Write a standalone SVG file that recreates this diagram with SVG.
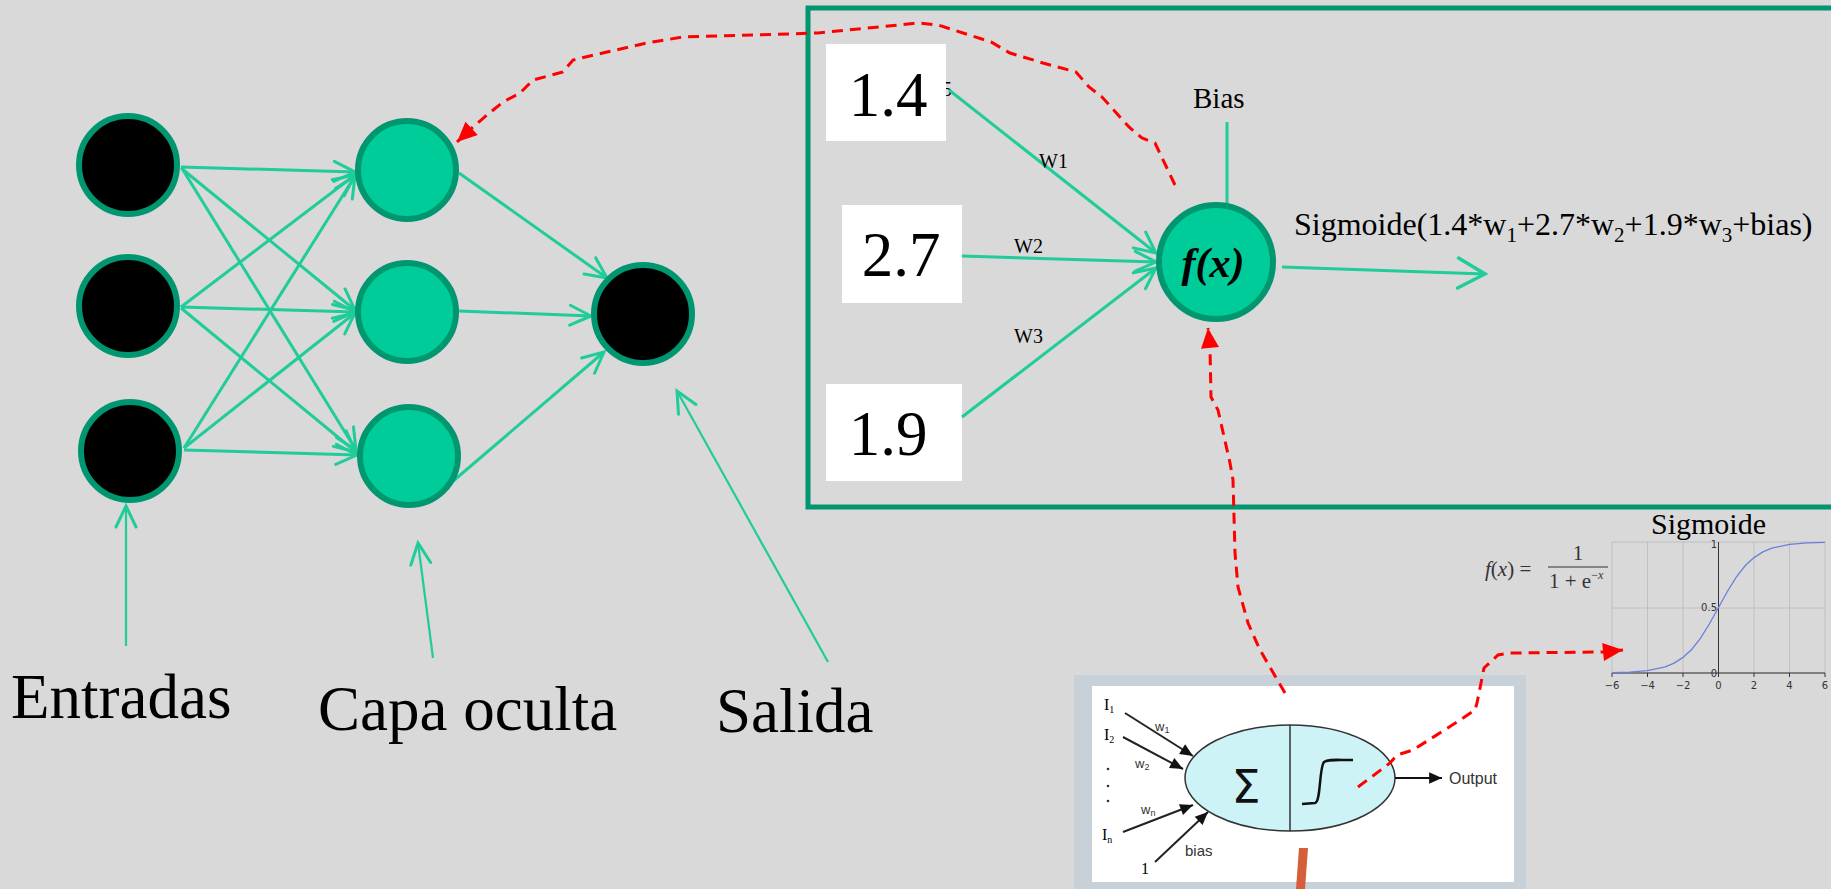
<svg xmlns="http://www.w3.org/2000/svg" width="1831" height="889" viewBox="0 0 1831 889">
<defs>
<style>
.bg{fill:#d9d9d9}
.in{fill:#000;stroke:#009670;stroke-width:6}
.hid{fill:#00cc99;stroke:#009670;stroke-width:6}
.con{stroke:#1fcc9a;stroke-width:3;fill:none}
.thin{stroke:#1fcc9a;stroke-width:2.2;fill:none}
.red{stroke:#ff0000;stroke-width:3;fill:none;stroke-dasharray:11 7}
.serif{font-family:"Liberation Serif","Times New Roman",serif;fill:#000}
.sans{font-family:"Liberation Sans","DejaVu Sans",Arial,sans-serif}
.big{font-size:63px}
.num{font-size:63px;text-anchor:middle}
.box{fill:#fff}
.grid{stroke:#c0c0c0;stroke-width:1;fill:none}
.tick{font-family:"DejaVu Sans","Liberation Sans",sans-serif;font-size:10px;fill:#333}
.blk{stroke:#222;stroke-width:2;fill:none}
</style>
<marker id="ga" markerUnits="userSpaceOnUse" markerWidth="40" markerHeight="40" viewBox="-30 -20 40 40" refX="0" refY="0" orient="auto">
<path d="M-21,-10 L0,0 L-21,10" fill="none" stroke="#1fcc9a" stroke-width="3" stroke-linecap="round"/>
</marker>
<marker id="gb" markerUnits="userSpaceOnUse" markerWidth="50" markerHeight="50" viewBox="-40 -25 50 50" refX="0" refY="0" orient="auto">
<path d="M-27,-15 L0,0 L-27,15" fill="none" stroke="#1fcc9a" stroke-width="3.5" stroke-linecap="round"/>
</marker>
<marker id="ra" markerUnits="userSpaceOnUse" markerWidth="40" markerHeight="40" viewBox="-30 -20 40 40" refX="0" refY="0" orient="auto">
<path d="M0,0 L-20,-9 L-20,9 Z" fill="#ff0000"/>
</marker>
<marker id="ka" markerUnits="userSpaceOnUse" markerWidth="20" markerHeight="20" viewBox="-12 -6 14 12" refX="0" refY="0" orient="auto">
<path d="M0,0 L-9,-4 L-9,4 Z" fill="#111"/>
</marker>
</defs>
<rect class="bg" x="0" y="0" width="1831" height="889"/>

<g id="connectors">
<line class="con" x1="181" y1="167" x2="355" y2="172" marker-end="url(#ga)"/>
<line class="con" x1="181" y1="168" x2="355" y2="310" marker-end="url(#ga)"/>
<line class="con" x1="183" y1="170" x2="356" y2="450" marker-end="url(#ga)"/>
<line class="con" x1="181" y1="307" x2="355" y2="175" marker-end="url(#ga)"/>
<line class="con" x1="181" y1="307" x2="355" y2="312" marker-end="url(#ga)"/>
<line class="con" x1="181" y1="308" x2="356" y2="452" marker-end="url(#ga)"/>
<line class="con" x1="184" y1="448" x2="355" y2="176" marker-end="url(#ga)"/>
<line class="con" x1="184" y1="448" x2="355" y2="313" marker-end="url(#ga)"/>
<line class="con" x1="184" y1="450" x2="357" y2="455" marker-end="url(#ga)"/>
<line class="con" x1="459" y1="173" x2="607" y2="278" marker-end="url(#ga)"/>
<line class="con" x1="459" y1="311" x2="591" y2="316" marker-end="url(#ga)"/>
<line class="con" x1="445" y1="488" x2="604" y2="352" marker-end="url(#ga)"/>
<line class="thin" x1="126" y1="646" x2="126" y2="506" marker-end="url(#ga)"/>
<line class="thin" x1="433" y1="658" x2="418" y2="543" marker-end="url(#ga)"/>
<line class="thin" x1="828" y1="662" x2="677" y2="391" marker-end="url(#ga)"/>
</g>

<g id="input-nodes">
<circle class="in" cx="128" cy="165" r="49"/>
<circle class="in" cx="128" cy="306" r="49"/>
<circle class="in" cx="130" cy="451" r="49"/>
</g>
<g id="hidden-nodes">
<circle class="hid" cx="407" cy="170" r="49"/>
<circle class="hid" cx="407" cy="312" r="49"/>
<circle class="hid" cx="409" cy="456" r="49"/>
</g>
<g id="output-node">
<circle class="in" cx="643" cy="314" r="49"/>
</g>

<g id="labels">
<text class="serif big" x="11" y="718">Entradas</text>
<text class="serif big" x="318" y="730">Capa oculta</text>
<text class="serif big" x="716" y="732">Salida</text>
</g>

<g id="neuron-panel">
<rect x="808" y="8" width="1100" height="499" fill="none" stroke="#009670" stroke-width="5"/>
<text class="serif" x="942" y="96" font-size="20">5</text>
<rect class="box" x="826" y="44" width="120" height="97"/>
<rect class="box" x="842" y="205" width="120" height="98"/>
<rect class="box" x="826" y="384" width="136" height="97"/>
<text class="serif num" x="888" y="116">1.4</text>
<text class="serif num" x="901" y="276">2.7</text>
<text class="serif num" x="888" y="455">1.9</text>
<line class="con" x1="949" y1="90" x2="1156" y2="253" marker-end="url(#ga)"/>
<line class="con" x1="962" y1="256" x2="1156" y2="262" marker-end="url(#ga)"/>
<line class="con" x1="962" y1="417" x2="1156" y2="268" marker-end="url(#ga)"/>
<text class="serif" x="1039" y="168" font-size="20">W1</text>
<text class="serif" x="1014" y="253" font-size="20">W2</text>
<text class="serif" x="1014" y="343" font-size="20">W3</text>
<line class="con" x1="1227" y1="122" x2="1227" y2="203"/>
<text class="serif" x="1193" y="108" font-size="29">Bias</text>
<line class="con" x1="1282" y1="267" x2="1485" y2="274" marker-end="url(#gb)"/>
<circle class="hid" cx="1216" cy="262" r="57"/>
<text class="serif" x="1213" y="277" font-size="42" font-weight="bold" font-style="italic" text-anchor="middle">f(x)</text>
<text class="serif" x="1294" y="235" font-size="32">Sigmoide(1.4*w<tspan font-size="21" dy="7">1</tspan><tspan dy="-7">+2.7*w</tspan><tspan font-size="21" dy="7">2</tspan><tspan dy="-7">+1.9*w</tspan><tspan font-size="21" dy="7">3</tspan><tspan dy="-7">+bias)</tspan></text>
</g>

<g id="sigmoid-chart">
<text class="serif" x="1651" y="534" font-size="30">Sigmoide</text>
<g class="grid">
<rect x="1612" y="542" width="213" height="131"/>
<line x1="1647.5" y1="542" x2="1647.5" y2="673"/>
<line x1="1683" y1="542" x2="1683" y2="673"/>
<line x1="1754" y1="542" x2="1754" y2="673"/>
<line x1="1789.5" y1="542" x2="1789.5" y2="673"/>
<line x1="1612" y1="608" x2="1825" y2="608"/>
</g>
<line x1="1718.5" y1="542" x2="1718.5" y2="673" stroke="#333" stroke-width="1"/>
<line x1="1612" y1="673" x2="1825" y2="673" stroke="#333" stroke-width="1"/>
<g stroke="#333" stroke-width="1">
<line x1="1612" y1="673" x2="1612" y2="677"/><line x1="1647.5" y1="673" x2="1647.5" y2="677"/><line x1="1683" y1="673" x2="1683" y2="677"/><line x1="1718.5" y1="673" x2="1718.5" y2="677"/><line x1="1754" y1="673" x2="1754" y2="677"/><line x1="1789.5" y1="673" x2="1789.5" y2="677"/><line x1="1825" y1="673" x2="1825" y2="677"/>
</g>
<polyline fill="none" stroke="#6b7fdc" stroke-width="1.3" points="1612,672.7 1629.75,672.1 1647.5,670.6 1665.25,666.8 1674.1,663.1 1683,657.4 1691.9,649.2 1700.75,637.8 1709.6,623.5 1718.5,607.5 1727.4,591.5 1736.25,577.2 1745.1,565.8 1754,557.6 1762.9,551.9 1771.75,548.2 1789.5,544.4 1807.25,542.9 1825,542.3"/>
<g class="tick" text-anchor="middle">
<text x="1612" y="689">−6</text><text x="1647.5" y="689">−4</text><text x="1683" y="689">−2</text><text x="1718.5" y="689">0</text><text x="1754" y="689">2</text><text x="1789.5" y="689">4</text><text x="1825" y="689">6</text>
</g>
<g class="tick" text-anchor="end">
<text x="1717" y="548">1</text><text x="1717" y="611">0.5</text><text x="1717" y="677">0</text>
</g>
<g class="serif" font-size="21">
<text x="1485" y="576" style="fill:#333"><tspan font-style="italic">f</tspan>(<tspan font-style="italic">x</tspan>) =</text>
<text x="1578" y="560" text-anchor="middle" style="fill:#333">1</text>
<line x1="1548" y1="567" x2="1608" y2="567" stroke="#333" stroke-width="1.2"/>
<text x="1549" y="588" style="fill:#333">1 + e<tspan font-size="12" dy="-9">−<tspan font-style="italic">x</tspan></tspan></text>
</g>
</g>

<g id="neuron-image">
<rect x="1074" y="675" width="452" height="214" fill="#c8d0d8"/>
<rect x="1092" y="686" width="422" height="196" fill="#ffffff"/>
<ellipse cx="1290" cy="778" rx="105" ry="53" fill="#cdf3f6" stroke="#333" stroke-width="1.5"/>
<line x1="1290" y1="725" x2="1290" y2="831" stroke="#333" stroke-width="1.5"/>
<text x="1246" y="803" font-family="DejaVu Sans,sans-serif" font-size="46" text-anchor="middle" fill="#111">Σ</text>
<path d="M1302,804 L1315,803 C1321,802 1319,768 1324,762 C1328,759 1336,760 1353,760" fill="none" stroke="#111" stroke-width="2.5"/>
<line x1="1395" y1="778" x2="1442" y2="778" stroke="#111" stroke-width="1.8" marker-end="url(#ka)"/>
<text class="sans" x="1449" y="784" font-size="16" fill="#333">Output</text>
<g class="blk">
<line x1="1125" y1="713" x2="1193" y2="756" marker-end="url(#ka)"/>
<line x1="1123" y1="737" x2="1183" y2="769" marker-end="url(#ka)"/>
<line x1="1123" y1="832" x2="1193" y2="805" marker-end="url(#ka)"/>
<line x1="1155" y1="862" x2="1208" y2="812" marker-end="url(#ka)"/>
</g>
<g class="serif" font-size="16" fill="#222">
<text x="1104" y="710">I<tspan font-size="10" dy="3">1</tspan></text>
<text x="1104" y="740">I<tspan font-size="10" dy="3">2</tspan></text>
<text x="1102" y="840">I<tspan font-size="10" dy="3">n</tspan></text>
<text x="1141" y="874">1</text>
</g>
<g fill="#333"><circle cx="1108" cy="769" r="1.3"/><circle cx="1108" cy="786" r="1.3"/><circle cx="1108" cy="801" r="1.3"/></g>
<g class="sans" font-size="13" fill="#333">
<text x="1155" y="731">w<tspan font-size="9" dy="2">1</tspan></text>
<text x="1135" y="768">w<tspan font-size="9" dy="2">2</tspan></text>
<text x="1141" y="814">w<tspan font-size="9" dy="2">n</tspan></text>
<text x="1185" y="856" font-size="15">bias</text>
</g>
<polygon points="1299,848 1308,848 1305,889 1296,889" fill="#d45f3a"/>
</g>

<g id="red-links">
<polyline class="red" points="1175,185 1155,143 1142,138 1129,127 1102,97 1089,87 1076,72 1043,63 1010,53 991,42 938,25 918,23 818,33 753,35 683,37 647,43 607,52 573,60 563,72 533,80 520,93 503,102 487,115 473,127 457,142" marker-end="url(#ra)"/>
<polyline class="red" points="1285,693 1260,650 1248,623 1238,587 1235,553 1233,480 1230,463 1218,410 1211,397 1210,348 1208,328" marker-end="url(#ra)"/>
<polyline class="red" points="1358,787 1390,763 1397,755 1413,750 1457,722 1475,710 1477,703 1484,668 1498,655 1510,653 1603,652 1623,650" marker-end="url(#ra)"/>
</g>
</svg>
